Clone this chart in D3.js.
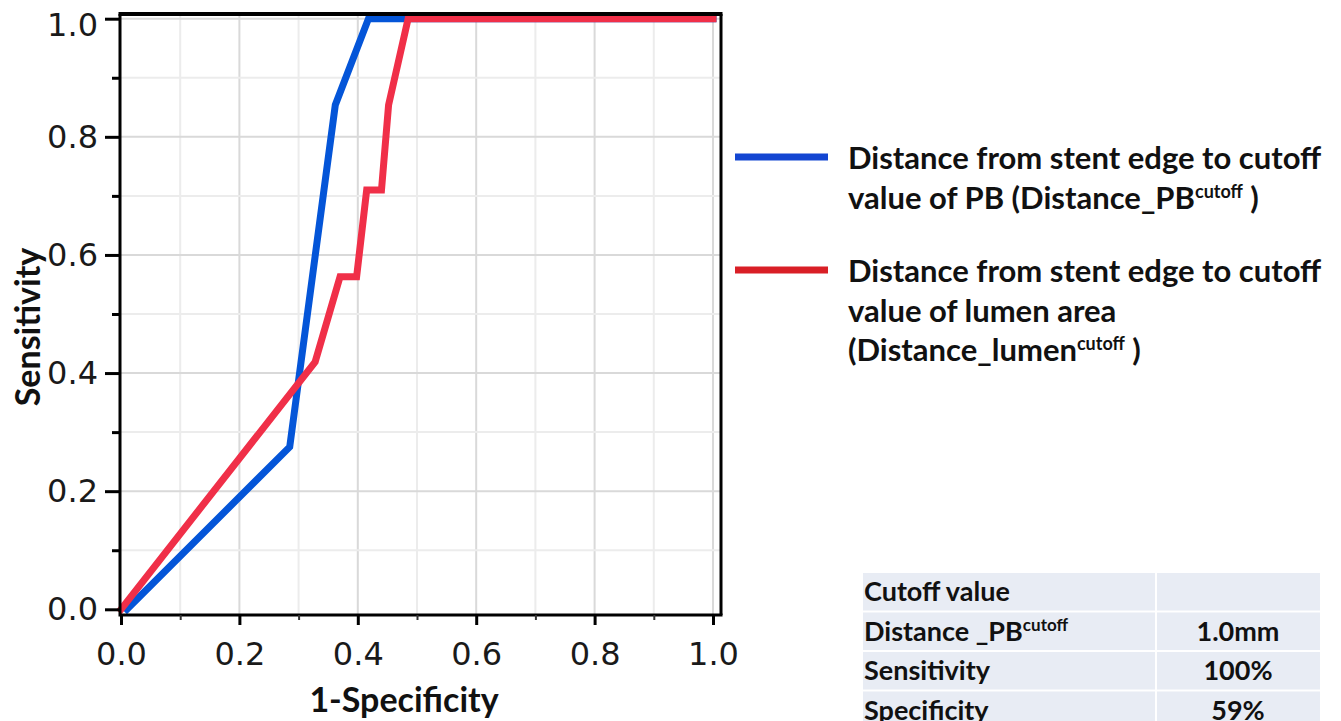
<!DOCTYPE html>
<html>
<head>
<meta charset="utf-8">
<script src="https://cdn.jsdelivr.net/npm/d3@7"></script>
<style>
  body { margin: 0; background: #fff; }
  .tick text { font-family: "DejaVu Sans", sans-serif; fill: #1a1a1a; }
  .label { font-family: Lato, sans-serif; font-weight: 700; fill: #111; }
</style>
</head>
<body>
<div class="container"></div>
<script>
// ROC curves
const pbFpr = [0.01, 0.285, 0.362, 0.418, 1.0];
const pbTpr = [0, 0.275, 0.854, 1.0, 1.0];
const lumenFpr = [0, 0.328, 0.37, 0.398, 0.415, 0.44, 0.452, 0.485, 1.0];
const lumenTpr = [0, 0.419, 0.563, 0.563, 0.71, 0.71, 0.854, 1.0, 1.0];

const majorTicks = [0, 0.2, 0.4, 0.6, 0.8, 1.0];
const minorTicks = [0.1, 0.3, 0.5, 0.7, 0.9];
const gridValues = [0.1, 0.2, 0.3, 0.4, 0.5, 0.6, 0.7, 0.8, 0.9, 1.0];

const legendLines = [
  ["Distance from stent edge to cutoff", "value of PB (Distance_PB|cutoff| )"],
  ["Distance from stent edge to cutoff", "value of lumen area", "(Distance_lumen|cutoff| )"]
];
const seriesColors = ["#0455d8", "#f02f48"];
const legendColors = ["#1346d2", "#d91f26"];

const tableLabels = ["Cutoff value", "Distance _PB|cutoff", "Sensitivity", "Specificity"];
const tableValues = ["", "1.0mm", "100%", "59%"];

const WIDTH = 1341, HEIGHT = 721;
const FRAME = { left: 120, right: 721, top: 14, bottom: 615 };

const x = d3.scaleLinear().domain([0, 1]).range([121, 713]);
const y = d3.scaleLinear().domain([0, 1]).range([609.3, 18.7]);

const svg = d3.select(".container")
  .append("svg")
  .attr("width", WIDTH)
  .attr("height", HEIGHT)
  .attr("viewBox", [0, 0, WIDTH, HEIGHT]);

// grid
const grid = svg.append("g").attr("stroke-width", 2);
grid.selectAll("line.v")
  .data(gridValues)
  .join("line")
  .attr("class", "v")
  .attr("x1", d => x(d)).attr("x2", d => x(d))
  .attr("y1", FRAME.top).attr("y2", FRAME.bottom)
  .attr("stroke", (d, i) => i % 2 ? "#d9d9d9" : "#ececec");
grid.selectAll("line.h")
  .data(gridValues)
  .join("line")
  .attr("class", "h")
  .attr("y1", d => y(d)).attr("y2", d => y(d))
  .attr("x1", FRAME.left).attr("x2", FRAME.right)
  .attr("stroke", (d, i) => i % 2 ? "#d9d9d9" : "#ececec");

// curves
const line = d3.line().x(d => x(d[0])).y(d => y(d[1]));
const curves = [d3.zip(pbFpr, pbTpr), d3.zip(lumenFpr, lumenTpr)];
svg.append("g")
  .attr("fill", "none")
  .attr("stroke-width", 7)
  .attr("stroke-linejoin", "miter")
  .attr("stroke-linecap", "square")
  .selectAll("path")
  .data(curves)
  .join("path")
  .attr("stroke", (d, i) => seriesColors[i])
  .attr("d", line);

// frame
const frame = svg.append("g").attr("stroke", "#000");
frame.append("line").attr("x1", FRAME.left - 1.5).attr("x2", FRAME.right + 1.5)
  .attr("y1", FRAME.top).attr("y2", FRAME.top).attr("stroke-width", 4);
frame.append("line").attr("x1", FRAME.right).attr("x2", FRAME.right)
  .attr("y1", FRAME.top).attr("y2", FRAME.bottom).attr("stroke-width", 3);
frame.append("line").attr("x1", FRAME.left).attr("x2", FRAME.left)
  .attr("y1", FRAME.top).attr("y2", FRAME.bottom + 1.5).attr("stroke-width", 3);
frame.append("line").attr("x1", FRAME.left).attr("x2", FRAME.right + 1.5)
  .attr("y1", FRAME.bottom).attr("y2", FRAME.bottom).attr("stroke-width", 3);

// axes
const fmt = d3.format(".1f");
const yAxis = svg.append("g")
  .attr("transform", `translate(${FRAME.left}, 0)`)
  .call(d3.axisLeft(y).tickValues(majorTicks).tickFormat(fmt).tickSize(15).tickPadding(7));
yAxis.selectAll(".tick line").attr("stroke", "#000").attr("stroke-width", 3);
yAxis.selectAll(".tick text").attr("font-size", 32);
yAxis.selectAll(".tick text").filter(d => d === 1).attr("dy", "0.52em");
svg.append("g")
  .attr("transform", `translate(${FRAME.left}, 0)`)
  .call(d3.axisLeft(y).tickValues(minorTicks).tickFormat("").tickSize(8))
  .selectAll(".tick line").attr("stroke", "#000").attr("stroke-width", 3);

const xAxis = svg.append("g")
  .attr("transform", `translate(0, ${FRAME.bottom})`)
  .call(d3.axisBottom(x).tickValues(majorTicks).tickFormat(fmt).tickSize(10).tickPadding(17));
xAxis.selectAll(".tick line").attr("stroke", "#000").attr("stroke-width", 3);
xAxis.selectAll(".tick text").attr("font-size", 32);
svg.append("g")
  .attr("transform", `translate(0, ${FRAME.bottom})`)
  .call(d3.axisBottom(x).tickValues(minorTicks).tickFormat("").tickSize(5))
  .selectAll(".tick line").attr("stroke", "#333").attr("stroke-width", 2);
svg.selectAll(".domain").remove();

// axis titles
svg.append("text")
  .attr("class", "label")
  .attr("x", 404).attr("y", 712)
  .attr("text-anchor", "middle")
  .attr("font-size", 34)
  .text("1-Specificity");
svg.append("text")
  .attr("class", "label")
  .attr("transform", "translate(40, 327) rotate(-90)")
  .attr("text-anchor", "middle")
  .attr("font-size", 34)
  .text("Sensitivity");

// text with |sup| parts
function richText(sel, str, supSize) {
  str.split("|").forEach((part, i) => {
    if (!part) return;
    const t = sel.append("tspan").text(part);
    if (i % 2) t.attr("font-size", supSize).attr("baseline-shift", "super");
  });
}

// legend
const legendTop = [157, 270];
legendLines.forEach((lines, i) => {
  const g = svg.append("g");
  g.append("line")
    .attr("x1", 735).attr("x2", 828)
    .attr("y1", legendTop[i]).attr("y2", legendTop[i])
    .attr("stroke", legendColors[i]).attr("stroke-width", 7);
  lines.forEach((l, j) => {
    const t = g.append("text")
      .attr("class", "label")
      .attr("x", 848)
      .attr("y", legendTop[i] + 12 + j * 39.5)
      .attr("font-size", 31);
    richText(t, l, 18);
  });
});

// table
const table = svg.append("g");
tableLabels.forEach((label, i) => {
  const top = 573 + i * 39.5;
  table.append("rect").attr("x", 863).attr("y", top)
    .attr("width", 292).attr("height", 37.5).attr("fill", "#e8ecf4");
  table.append("rect").attr("x", 1157).attr("y", top)
    .attr("width", 163).attr("height", 37.5).attr("fill", "#e8ecf4");
  const t = table.append("text").attr("class", "label")
    .attr("x", 864).attr("y", top + 28).attr("font-size", 27);
  richText(t, label, 17);
  table.append("text").attr("class", "label")
    .attr("x", 1238).attr("y", top + 28).attr("font-size", 27)
    .attr("text-anchor", "middle")
    .text(tableValues[i]);
});
</script>
</body>
</html>
